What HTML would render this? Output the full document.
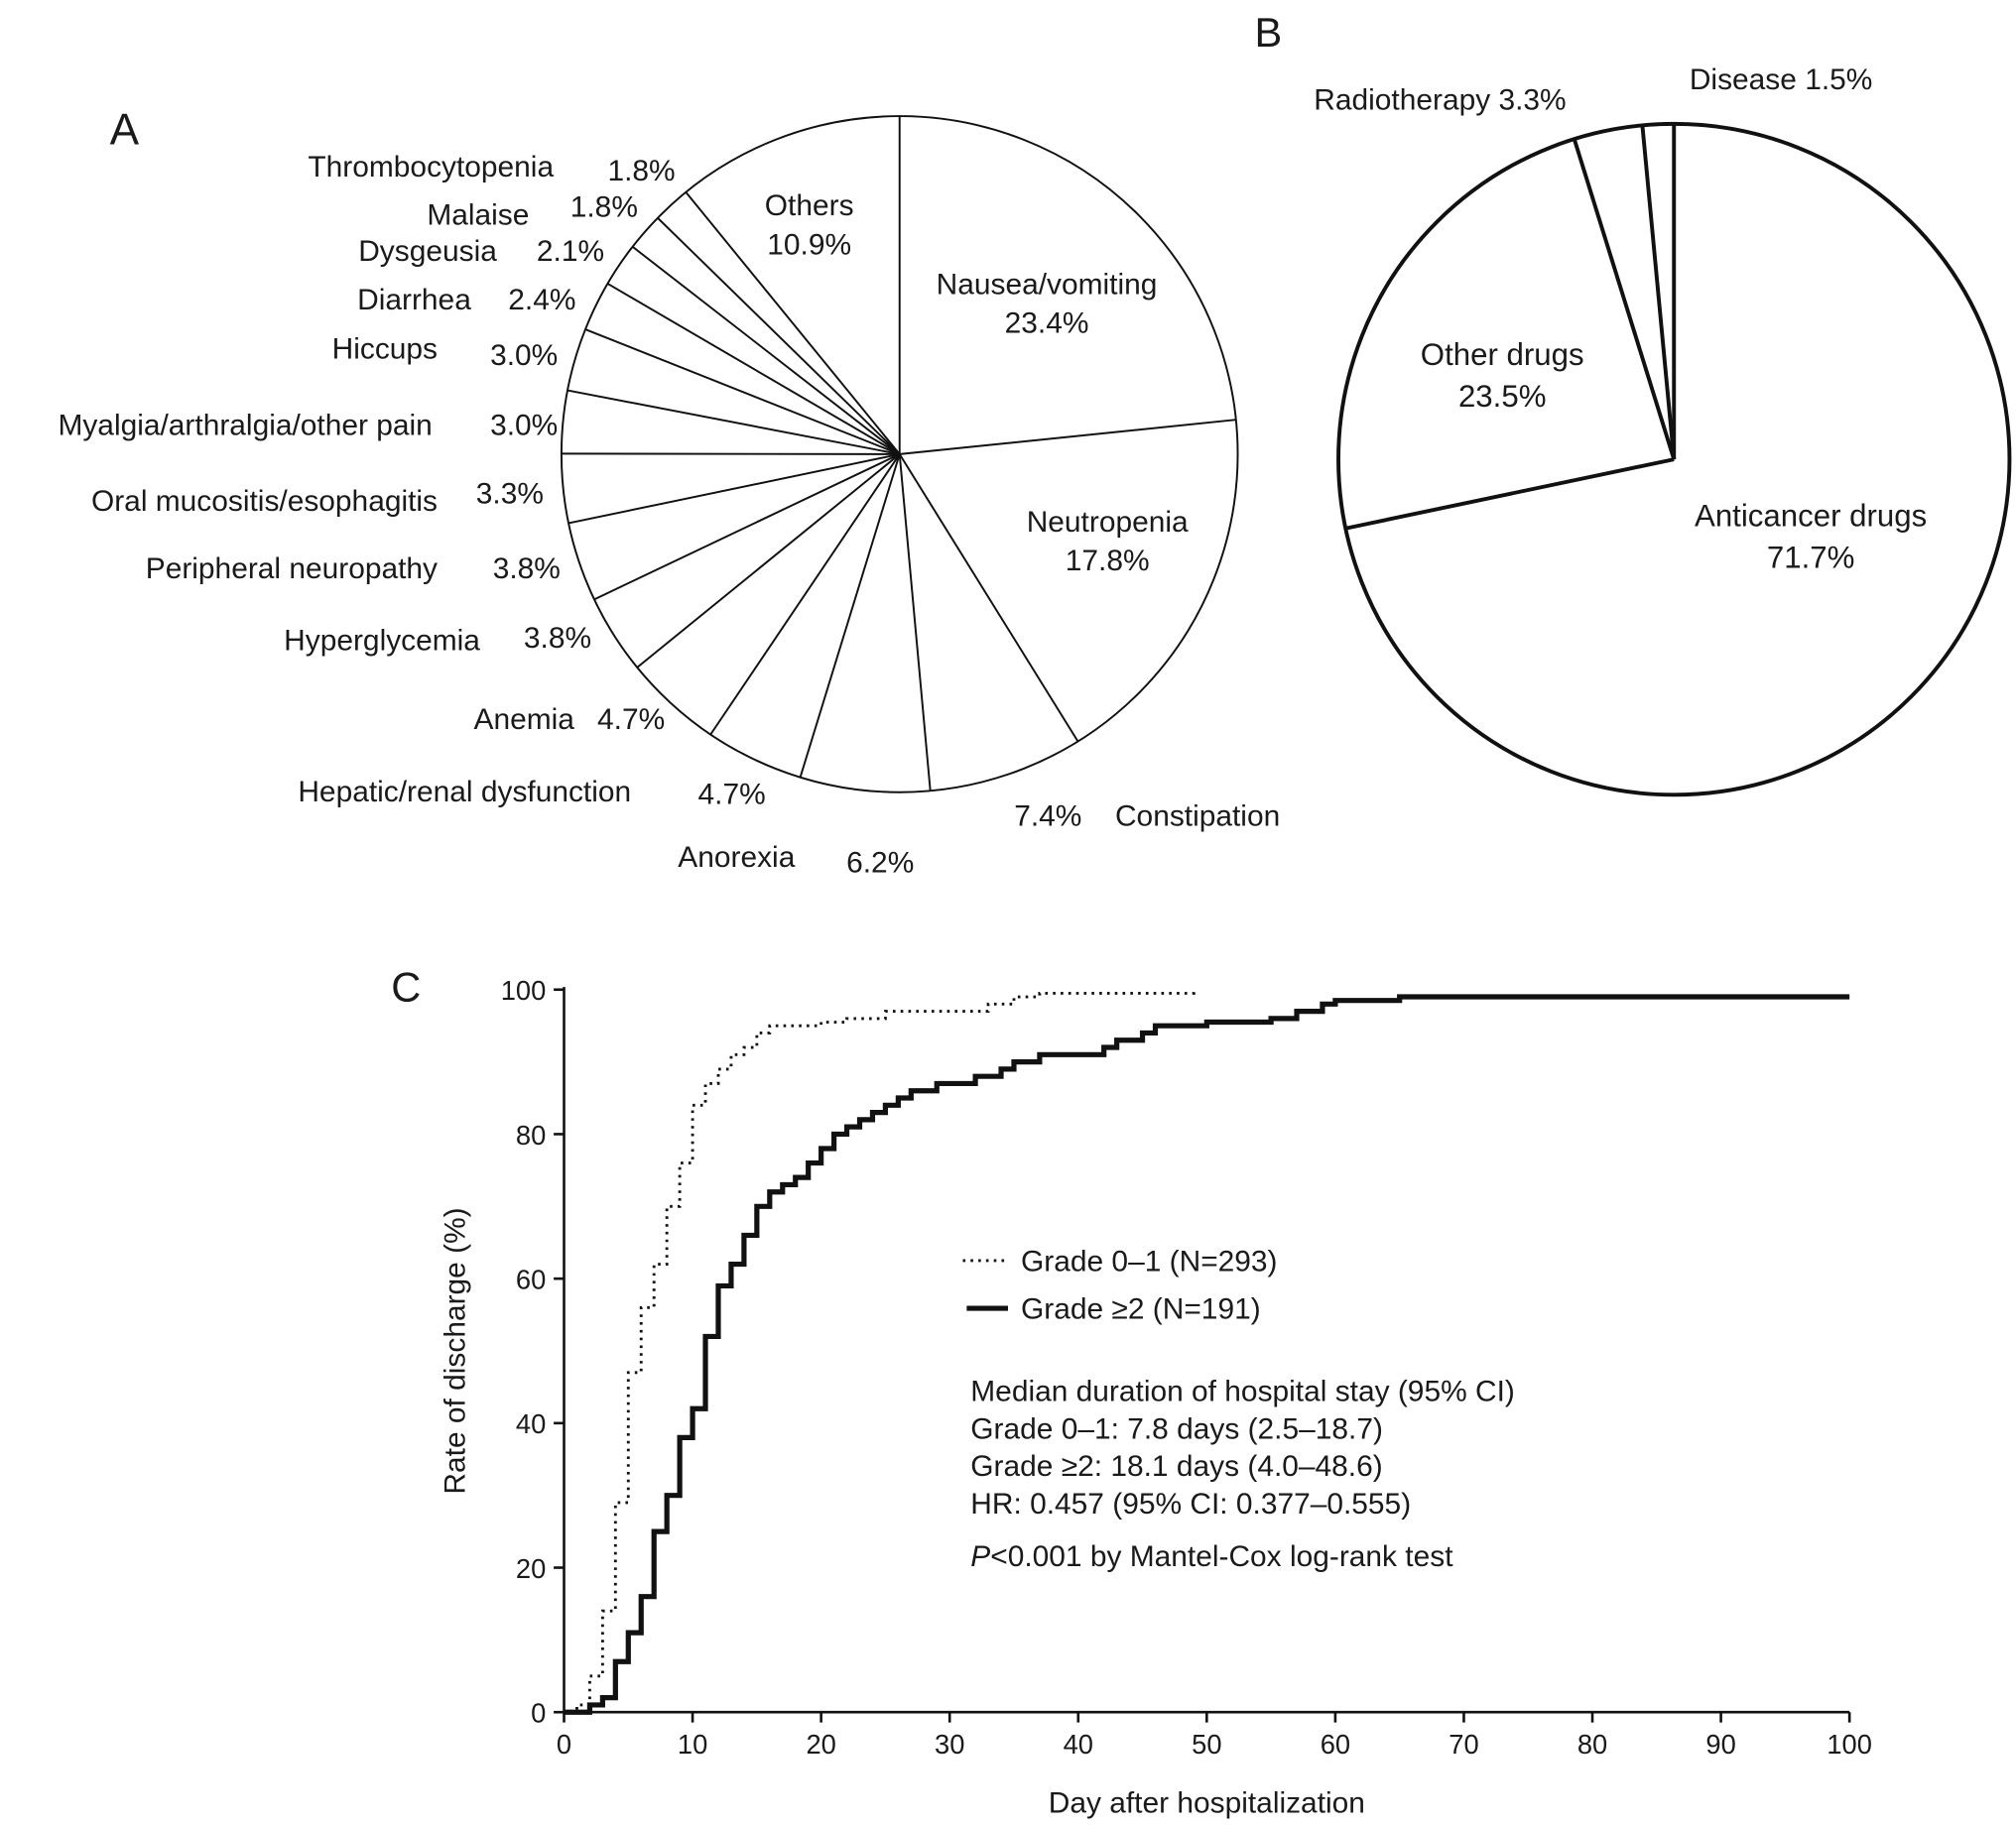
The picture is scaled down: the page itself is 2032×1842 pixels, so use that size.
<!DOCTYPE html>
<html><head><meta charset="utf-8"><style>
html,body{margin:0;padding:0;background:#fff}
svg{display:block}
text{font-family:"Liberation Sans",sans-serif;fill:#1a1a1a}
.n{font-family:"Liberation Sans Narrow","Liberation Sans",sans-serif}
</style></head><body>
<svg id="fig" width="2032" height="1842" viewBox="0 0 1562 1416" xmlns="http://www.w3.org/2000/svg">
<g id="pa"></g>
<g id="pb"></g>
<g id="km"></g>
</svg>
<script>
const pieALabels=["Nausea/vomiting","Neutropenia","Constipation","Anorexia","Hepatic/renal dysfunction","Anemia","Hyperglycemia","Peripheral neuropathy","Oral mucositis/esophagitis","Myalgia/arthralgia/other pain","Hiccups","Diarrhea","Dysgeusia","Malaise","Thrombocytopenia","Others"];
const pieAValues=[23.4,17.8,7.4,6.2,4.7,4.7,3.8,3.8,3.3,3.0,3.0,2.4,2.1,1.8,1.8,10.9];
const pieBLabels=["Anticancer drugs","Other drugs","Radiotherapy","Disease"];
const pieBValues=[71.7,23.5,3.3,1.5];
const g1Days=[0,1,2,3,4,5,6,7,8,9,10,11,12,13,14,15,16,20,22,25,33,35,37,49];
const g1Vals=[0,1,5,14,29,47,56,62,70,76,84,87,89,91,92,94,95,95.5,96,97,98,99,99.5,100];
const g2Days=[0,2,3,4,5,6,7,8,9,10,11,12,13,14,15,16,17,18,19,20,21,22,23,24,25,26,27,29,32,34,35,37,42,43,45,46,50,55,57,59,60,65,100];
const g2Vals=[0,1,2,7,11,16,25,30,38,42,52,59,62,66,70,72,73,74,76,78,80,81,82,83,84,85,86,87,88,89,90,91,92,93,94,95,95.5,96,97,98,98.5,99,99];
const xTicks=[0,10,20,30,40,50,60,70,80,90,100];
const yTicks=[0,20,40,60,80,100];
const NS="http://www.w3.org/2000/svg";
function mk(p,t,a){const e=document.createElementNS(NS,t);for(const k in a)e.setAttribute(k,a[k]);p.appendChild(e);return e;}
function txt(p,x,y,s,size,anchor,cls){const e=mk(p,'text',{x:x,y:y,'font-size':size,'text-anchor':anchor||'start'});if(cls)e.setAttribute('class',cls);e.textContent=s;return e;}
function pie(g,cx,cy,r,vals,sw,name){
  const tot=vals.reduce((a,b)=>a+b,0);let a=0;
  const c=mk(g,'circle',{cx:cx,cy:cy,r:r,fill:'#fff',stroke:'#111','stroke-width':sw});
  
  
  vals.forEach((v,i)=>{const ang=a/tot*2*Math.PI;
    const l=mk(g,'line',{x1:cx,y1:cy,x2:cx+r*Math.sin(ang),y2:cy-r*Math.cos(ang),stroke:'#111','stroke-width':sw});
    
    
    a+=v;});
}
const pa=document.getElementById('pa');
pie(pa,697,352,262,pieAValues,1.5,'pie-a');
txt(pa,85,112,'A',34,'start');
const aLab=[[0,811,228,'middle'],[1,858,412,'middle'],[2,864,640,'start'],[3,616,672,'end'],[4,489,621,'end'],[5,445,565,'end'],[6,372,504,'end'],[7,339,448,'end'],[8,339,396,'end'],[9,335,337,'end'],[10,339,278,'end'],[11,365,240,'end'],[12,385,202,'end'],[13,410,174,'end'],[14,429,137,'end'],[15,627,167,'middle']];
const aPct=[[0,811,258,'middle'],[1,858,442,'middle'],[2,812,640,'middle'],[3,682,676,'middle'],[4,567,623,'middle'],[5,489,565,'middle'],[6,432,502,'middle'],[7,408,448,'middle'],[8,395,390,'middle'],[9,406,337,'middle'],[10,406,283,'middle'],[11,420,240,'middle'],[12,442,202,'middle'],[13,468,168,'middle'],[14,497,140,'middle'],[15,627,197,'middle']];
aLab.forEach(d=>{const t=txt(pa,d[1],d[2],pieALabels[d[0]],23,d[3],'n');});
aPct.forEach(d=>{const t=txt(pa,d[1],d[2],pieAValues[d[0]].toFixed(1)+'%',23,d[3],'n');});
const pb=document.getElementById('pb');
pie(pb,1297,356,260,pieBValues,3,'pie-b');
txt(pb,972,36,'B',32,'start');
[[0,1403,408],[1,1164,283]].forEach(d=>{txt(pb,d[1],d[2],pieBLabels[d[0]],24,'middle');txt(pb,d[1],d[2]+32,pieBValues[d[0]].toFixed(1)+'%',24,'middle');});
txt(pb,1018,85,pieBLabels[2]+' '+pieBValues[2].toFixed(1)+'%',23,'start');
txt(pb,1309,69,pieBLabels[3]+' '+pieBValues[3].toFixed(1)+'%',23,'start');
const km=document.getElementById('km');
const X0=437,X1=1433,Y0=1327,Y1=767;
const sx=d=>X0+(X1-X0)*d/100, sy=v=>Y0-(Y0-Y1)*v/100;
txt(km,303,776,'C',32,'start');
mk(km,'line',{x1:X0,y1:Y1-2,x2:X0,y2:Y0,stroke:'#111','stroke-width':2});
mk(km,'line',{x1:X0,y1:Y0,x2:X1,y2:Y0,stroke:'#111','stroke-width':2});
xTicks.forEach(t=>{mk(km,'line',{x1:sx(t),y1:Y0,x2:sx(t),y2:Y0+8,stroke:'#111','stroke-width':2});const e=txt(km,sx(t),Y0+32,String(t),21,'middle');});
yTicks.forEach(t=>{mk(km,'line',{x1:X0-8,y1:sy(t),x2:X0,y2:sy(t),stroke:'#111','stroke-width':2});const e=txt(km,X0-14,sy(t)+8,String(t),21,'end');});
const xt=txt(km,(X0+X1)/2,1405,'Day after hospitalization',23,'middle');
const yt=txt(km,0,0,'Rate of discharge (%)',23,'middle');yt.setAttribute('transform','translate(360 1047) rotate(-90)');
function step(days,vals,w,dash,name){
  let d='M'+sx(days[0])+' '+sy(vals[0]);
  for(let i=1;i<days.length;i++){d+=' H'+sx(days[i])+' V'+sy(vals[i]);}
  const p=mk(km,'path',{d:d,fill:'none',stroke:'#111','stroke-width':w});
  if(dash)p.setAttribute('stroke-dasharray',dash);
  
  
}
step(g1Days,g1Vals,2.2,'2 4','series-grade-0-1');
step(g2Days,g2Vals,4,null,'series-grade-2plus');
mk(km,'line',{x1:746,y1:977,x2:778,y2:977,stroke:'#111','stroke-width':2.2,'stroke-dasharray':'2 4'});
mk(km,'line',{x1:749,y1:1014,x2:781,y2:1014,stroke:'#111','stroke-width':4});
txt(km,791,985,'Grade 0–1 (N=293)',23,'start');
txt(km,791,1022,'Grade ≥2 (N=191)',23,'start');
['Median duration of hospital stay (95% CI)','Grade 0–1: 7.8 days (2.5–18.7)','Grade ≥2: 18.1 days (4.0–48.6)','HR: 0.457 (95% CI: 0.377–0.555)'].forEach((s,i)=>txt(km,752,1086+i*29,s,23,'start'));
const pt=mk(km,'text',{x:752,y:1214,'font-size':23});pt.innerHTML='<tspan font-style="italic">P</tspan>&lt;0.001 by Mantel-Cox log-rank test';
</script>
</body></html>
